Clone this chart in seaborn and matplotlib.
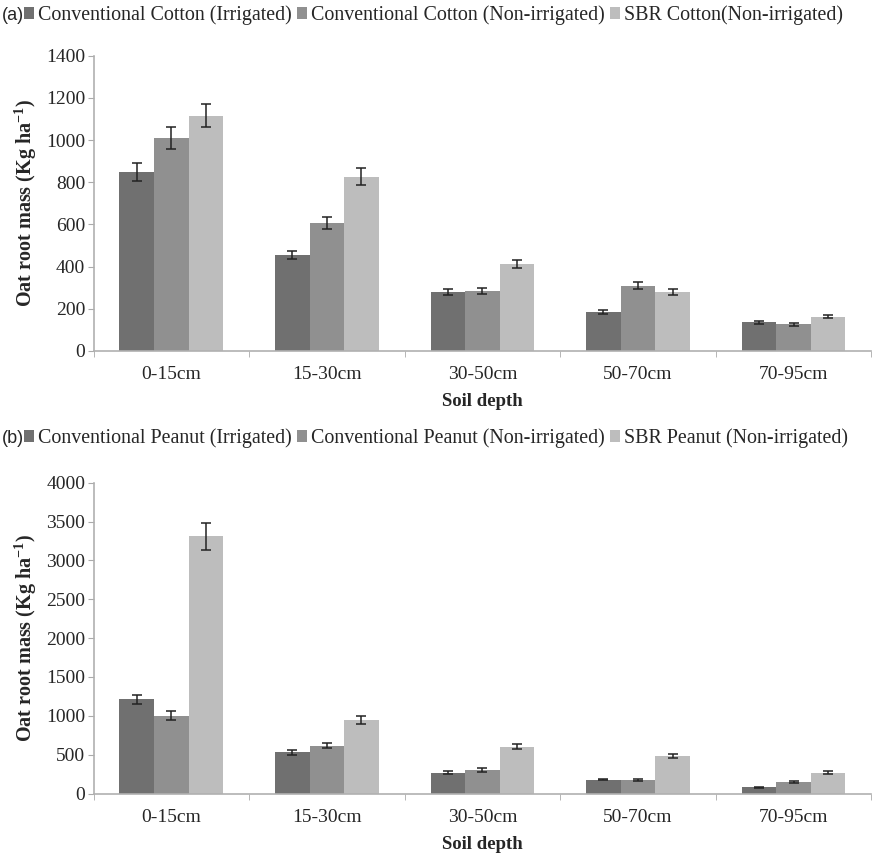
import matplotlib
matplotlib.use("Agg")
import matplotlib.pyplot as plt
import seaborn as sns
import pandas as pd
import numpy as np

# data
depths = ["0-15cm", "15-30cm", "30-50cm", "50-70cm", "70-95cm"]

cotton_labels = ["Conventional Cotton (Irrigated)",
                 "Conventional Cotton (Non-irrigated)",
                 "SBR Cotton(Non-irrigated)"]
cotton_irr = [849, 456, 279, 185, 136]
cotton_nonirr = [1009, 605, 285, 310, 127]
cotton_sbr = [1116, 825, 412, 280, 163]
cotton_irr_err = [43, 20, 13, 8, 6]
cotton_nonirr_err = [51, 28, 15, 15, 7]
cotton_sbr_err = [56, 40, 20, 15, 9]

peanut_labels = ["Conventional Peanut (Irrigated)",
                 "Conventional Peanut (Non-irrigated)",
                 "SBR Peanut (Non-irrigated)"]
peanut_irr = [1211, 530, 265, 179, 81]
peanut_nonirr = [1004, 615, 303, 171, 145]
peanut_sbr = [3310, 945, 602, 483, 269]
peanut_irr_err = [62, 34, 20, 10, 8]
peanut_nonirr_err = [56, 34, 20, 10, 10]
peanut_sbr_err = [170, 50, 32, 26, 15]

colors = ["#707070", "#909090", "#bdbdbd"]

sns.set_style("white")
plt.rcParams["font.family"] = ["Liberation Serif", "DejaVu Serif"]
plt.rcParams["mathtext.fontset"] = "custom"
plt.rcParams["mathtext.rm"] = "Liberation Serif"
plt.rcParams["mathtext.bf"] = "Liberation Serif:bold"

fig = plt.figure(figsize=(8.74, 8.56), dpi=100)
ax_a = fig.add_axes([0.107, 0.590, 0.890, 0.345])
ax_b = fig.add_axes([0.107, 0.073, 0.890, 0.363])


def draw_panel(ax, labels, series, errs, ymax, step, tag, tag_y):
    rows = []
    for lab, vals in zip(labels, series):
        for d, v in zip(depths, vals):
            rows.append({"depth": d, "group": lab, "mass": v})
    df = pd.DataFrame(rows)
    sns.barplot(data=df, x="depth", y="mass", hue="group", order=depths,
                hue_order=labels, palette=colors, width=0.667,
                saturation=1, errorbar=None, ax=ax, linewidth=0)

    # error bars on top of the bars seaborn drew
    for cont, err in zip(ax.containers, errs):
        xs = [p.get_x() + p.get_width() / 2 for p in cont.patches]
        hs = [p.get_height() for p in cont.patches]
        ax.errorbar(xs, hs, yerr=err, fmt="none", ecolor="#222222",
                    elinewidth=1.1, capsize=3.5, capthick=1.1)

    ax.set_xlim(-0.5, 4.5)
    ax.set_ylim(0, ymax)
    ax.set_yticks(np.arange(0, ymax + 1, step))
    ax.set_xticks(np.arange(-0.5, 5, 1), minor=True)
    ax.tick_params(axis="x", which="major", length=0, labelsize=14, pad=11)
    ax.tick_params(axis="x", which="minor", length=4, color="#aaaaaa",
                   direction="out", bottom=True)
    ax.tick_params(axis="y", length=4, color="#aaaaaa", direction="out",
                   left=True, labelsize=14, pad=2)
    sns.despine(ax=ax)
    for s in ["left", "bottom"]:
        ax.spines[s].set_color("#b0b0b0")
        ax.spines[s].set_linewidth(1.2)
    ax.set_xlabel("Soil depth", fontsize=13.5, fontweight="bold", labelpad=7)
    ax.set_ylabel("Oat root mass (Kg ha$^{\\mathbf{-1}}$)", fontsize=14.5,
                  fontweight="bold", labelpad=5)

    handles, _ = ax.get_legend_handles_labels()
    ax.get_legend().remove()
    fig.legend(handles, labels, ncol=3, loc="center left",
               bbox_to_anchor=(0.028, tag_y), frameon=False, fontsize=14.4,
               handlelength=0.5, handleheight=0.5, handletextpad=0.2,
               columnspacing=0.25, borderaxespad=0, borderpad=0)
    fig.text(0.002, tag_y, tag, fontsize=13, family="Liberation Sans",
             va="center", ha="left")


draw_panel(ax_a, cotton_labels, [cotton_irr, cotton_nonirr, cotton_sbr],
           [cotton_irr_err, cotton_nonirr_err, cotton_sbr_err],
           1400, 200, "(a)", 0.982)
draw_panel(ax_b, peanut_labels, [peanut_irr, peanut_nonirr, peanut_sbr],
           [peanut_irr_err, peanut_nonirr_err, peanut_sbr_err],
           4000, 500, "(b)", 0.488)

fig.savefig("out.png", dpi=100)
